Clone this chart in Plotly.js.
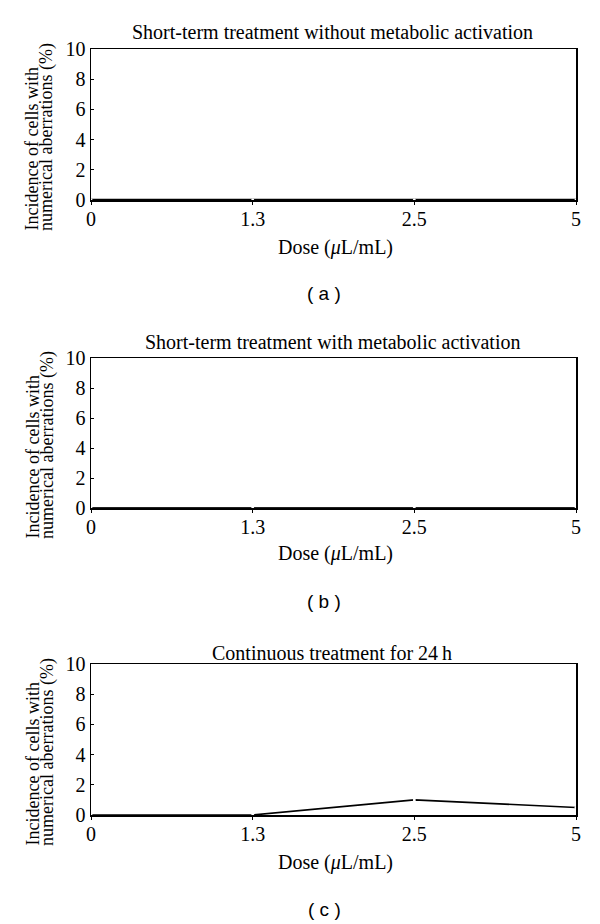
<!DOCTYPE html>
<html>
<head>
<meta charset="utf-8">
<script src="https://cdn.plot.ly/plotly-3.0.1.min.js"></script>
<style>html,body{margin:0;padding:0;background:#fff;}#chart{width:600px;height:924px;}</style>
</head>
<body>
<div id="chart"></div>
<script>
const doses = ['0', '1.3', '2.5', '5'];
const panelTitles = ['Short-term treatment without metabolic activation',
                     'Short-term treatment with metabolic activation',
                     'Continuous treatment for 24\u2009h'];
const panelLabels = ['( a )', '( b )', '( c )'];
const valuesA = [0, 0, 0, 0];
const valuesB = [0, 0, 0, 0];
const valuesC = [0, 0, 1, 0.5];
const yTicks = [0, 2, 4, 6, 8, 10];

const W = 600, H = 924, L = 91, R = 24;
const PW = W - L - R;
function py(p) { return 1 - p / H; }
function px(p) { return (p - L) / PW; }

// pixel geometry of panels: [top, bottom, titleY, doseY, labelY]
const panels = [[49, 200, 32, 247, 293], [358, 508, 342, 553, 601], [664, 815, 653, 862, 909]];
const lineStyles = [
  {color: '#000', width: 2.6},
  {color: '#222', width: 1.8},
  {color: '#000', width: 1.6}
];
const series = [valuesA, valuesB, valuesC];
const serif = 'Liberation Serif';

const traces = series.map((vals, i) => ({
  x: doses, y: vals, type: 'scatter', mode: 'lines+markers',
  xaxis: i === 0 ? 'x' : 'x' + (i + 1),
  yaxis: i === 0 ? 'y' : 'y' + (i + 1),
  line: lineStyles[i],
  marker: {color: '#fff', size: 3},
  cliponaxis: false,
  showlegend: false
}));

const layout = {
  width: W, height: H,
  margin: {l: L, r: R, t: 0, b: 0},
  paper_bgcolor: '#fff', plot_bgcolor: '#fff',
  showlegend: false,
  font: {family: serif, color: '#000'},
  annotations: []
};

panels.forEach((p, i) => {
  const xk = i === 0 ? 'xaxis' : 'xaxis' + (i + 1);
  const yk = i === 0 ? 'yaxis' : 'yaxis' + (i + 1);
  const yid = i === 0 ? 'y' : 'y' + (i + 1);
  const xid = i === 0 ? 'x' : 'x' + (i + 1);
  layout[xk] = {
    type: 'category', range: [0, 3], anchor: yid, domain: [0, 1],
    categoryorder: 'array', categoryarray: doses,
    showgrid: false, zeroline: false, showline: true, linecolor: '#000', linewidth: 1.5,
    mirror: true, ticks: 'outside', ticklen: 3, tickwidth: 1, tickcolor: '#000',
    ticklabelstandoff: -3,
    tickfont: {family: serif, size: 20, color: '#000'}
  };
  layout[yk] = {
    range: [0, 10], anchor: xid, domain: [py(p[1]), py(p[0])],
    tickvals: yTicks, showgrid: false, zeroline: false, showline: true,
    linecolor: '#000', linewidth: 1.5, mirror: true,
    ticks: 'inside', ticklen: 3, tickwidth: 1, tickcolor: '#000',
    tickfont: {family: serif, size: 20, color: '#000'}
  };
  layout.annotations.push({
    text: panelTitles[i], xref: 'paper', yref: 'paper',
    x: px(332), y: py(p[2]), xanchor: 'center', yanchor: 'middle',
    showarrow: false, font: {family: serif, size: 20, color: '#000'}
  });
  layout.annotations.push({
    text: 'Dose (<i>\u03bc</i>L/mL)', xref: 'paper', yref: 'paper',
    x: px(335), y: py(p[3]), xanchor: 'center', yanchor: 'middle',
    showarrow: false, font: {family: serif, size: 20, color: '#000'}
  });
  layout.annotations.push({
    text: panelLabels[i], xref: 'paper', yref: 'paper',
    x: px(324), y: py(p[4]), xanchor: 'center', yanchor: 'middle',
    showarrow: false, font: {family: 'Liberation Sans', size: 19, color: '#000'}
  });
  const yb = p[1] + 33;
  layout.annotations.push({
    text: 'Incidence of cells with', xref: 'paper', yref: 'paper',
    x: px(32), y: py(yb), xanchor: 'center', yanchor: 'bottom', textangle: -90,
    showarrow: false, font: {family: serif, size: 18, color: '#000'}
  });
  layout.annotations.push({
    text: 'numerical aberrations (%)', xref: 'paper', yref: 'paper',
    x: px(47), y: py(yb), xanchor: 'center', yanchor: 'bottom', textangle: -90,
    showarrow: false, font: {family: serif, size: 18, color: '#000'}
  });
});

Plotly.newPlot('chart', traces, layout, {staticPlot: true, displayModeBar: false});
</script>
</body>
</html>
